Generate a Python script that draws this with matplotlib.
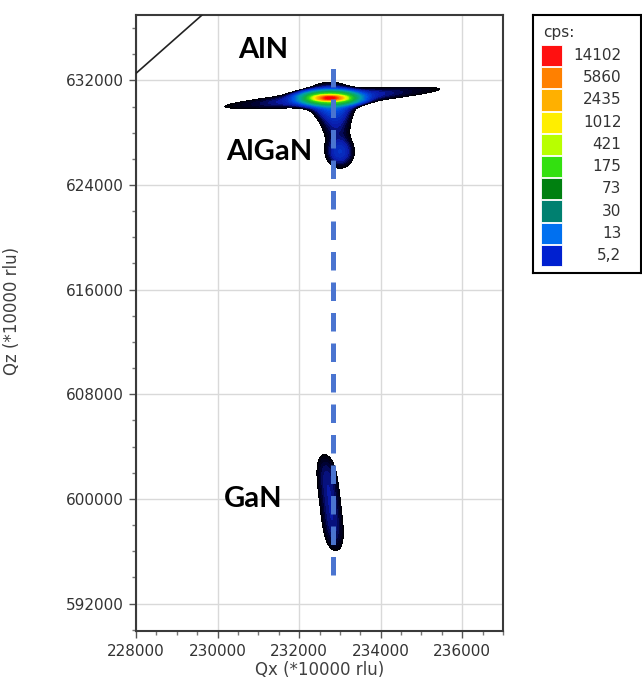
import numpy as np
import matplotlib
matplotlib.use('Agg')
import matplotlib.pyplot as plt
from matplotlib.colors import LinearSegmentedColormap, LogNorm
from matplotlib.patches import Rectangle

# colour scale (cps)
cps_levels = [14102, 5860, 2435, 1012, 421, 175, 73, 30, 13, 5.2]
cps_labels = ['14102', '5860', '2435', '1012', '421', '175', '73', '30', '13', '5,2']
cps_colors = ['#FF1010', '#FF8000', '#FFB000', '#FFEE00', '#B8FF00',
              '#33E010', '#008010', '#008070', '#0070F0', '#0020D0']
cps_floor = 2.0

# AlN substrate peak: narrow core, broad base, dome
aln_qx, aln_qz = 232755, 630655
aln_amp = [16000, 300, 9]
aln_wx = [150, 330, 330]
aln_wz = [90, 250, 700]

# analyser streak through the AlN peak
streak_slope = 0.252
streak_amp = 12
streak_decay = [1440, 1500]   # left, right
streak_wz = 340

# diffuse tail from AlN down to the AlGaN layer
tail_qx = 232820
tail_amp = 15
tail_decay = 1965
tail_wx = 260
tail_tilt = 0.037

# AlGaN layer peak
algan_qx, algan_qz = 233000, 626500
algan_amp = 6
algan_wx, algan_wz = 210, 650

# GaN layer peak
gan_qx, gan_qz = 232760, 599714
gan_amp = 5
gan_wx, gan_wz = 190, 3154
gan_tilt = -0.0375

# relaxation line (fully strained, constant Qx) and accessibility limit
ref_qx = 232840
ref_qz = [594150, 633800]
limit_qx = [228000, 229620]
limit_qz = [632540, 637000]

peak_labels = ['AlN', 'AlGaN', 'GaN']
label_qx = [231110, 231272, 230868]
label_qz = [634347, 626549, 600023]


def rsm_intensity(QX, QZ):
    I = np.zeros(QX.shape, dtype=float)
    for a, wx, wz in zip(aln_amp, aln_wx, aln_wz):
        I += a * np.exp(-0.5 * ((QX - aln_qx) / wx) ** 2 - 0.5 * ((QZ - aln_qz) / wz) ** 2)
    u = QX - aln_qx
    v = QZ - (aln_qz + streak_slope * u)
    L = np.where(u < 0, streak_decay[0], streak_decay[1])
    I += streak_amp * np.exp(-np.abs(u) / L) * np.exp(-0.5 * (v / streak_wz) ** 2)
    below = aln_qz - QZ
    xt = tail_qx + tail_tilt * below
    step = 1.0 / (1.0 + np.exp(-below / 100.0))
    I += step * tail_amp * np.exp(-np.clip(below, 0, None) / tail_decay) * \
        np.exp(-0.5 * ((QX - xt) / tail_wx) ** 2)
    I += algan_amp * np.exp(-0.5 * ((QX - algan_qx) / algan_wx) ** 2
                            - 0.5 * ((QZ - algan_qz) / algan_wz) ** 2)
    xg = gan_qx + gan_tilt * (QZ - gan_qz)
    I += gan_amp * np.exp(-0.5 * ((QX - xg) / gan_wx) ** 2
                          - 0.5 * ((QZ - gan_qz) / gan_wz) ** 4)
    return I


# log colour map: black below the lowest level, then the cps colours
nodes = [(2.0, '#000000'), (3.3, '#00002E'), (5.2, '#0A1AA8'), (13, '#0050E8'),
         (30, '#00A0B0'), (73, '#10B040'), (175, '#33DD11'), (421, '#BBFF00'),
         (1012, '#FFEE00'), (2435, '#FFB000'), (5860, '#FF7F00'), (14102, '#FF0000')]
span = np.log(14102 / cps_floor)
cmap = LinearSegmentedColormap.from_list(
    'cps', [(np.log(v / cps_floor) / span, c) for v, c in nodes])
cmap.set_over('#FF0000')

qx = np.arange(229000, 236500, 10, dtype=float)
qz = np.arange(594000, 634000, 25, dtype=float)
QX, QZ = np.meshgrid(qx, qz)
I = rsm_intensity(QX, QZ)

fig = plt.figure(figsize=(6.42, 6.79), dpi=100)
ax = fig.add_axes([136 / 642, 1 - 631 / 679, 367 / 642, 616 / 679])

levels = np.logspace(np.log10(cps_floor), np.log10(14102), 60)
ax.contourf(QX, QZ, I, levels=levels, cmap=cmap,
            norm=LogNorm(vmin=cps_floor, vmax=14102), extend='max', zorder=2)

ax.plot([ref_qx, ref_qx], ref_qz, color='#4A74D0', lw=3.6,
        dashes=(3.7, 2.4), zorder=4)
ax.plot(limit_qx, limit_qz, color='#222222', lw=1.2, zorder=3)

for name, x, y in zip(peak_labels, label_qx, label_qz):
    ax.text(x, y, name, ha='center', va='center', fontsize=21,
            fontweight='bold', family='Lato', color='black', zorder=5)

ax.set_xlim(228000, 237000)
ax.set_ylim(589900, 637000)
xt_major = np.arange(228000, 236001, 2000)
yt_major = np.arange(592000, 632001, 8000)
ax.set_xticks(xt_major)
ax.set_xticklabels([str(v) for v in xt_major])
ax.set_yticks(yt_major)
ax.set_yticklabels([str(v) for v in yt_major])
ax.set_xticks(np.arange(228000, 237001, 500), minor=True)
ax.set_yticks(np.arange(590000, 637001, 2000), minor=True)
ax.tick_params(which='major', direction='out', length=5, width=1,
               color='#555555', labelsize=11, labelcolor='#333333', pad=4)
ax.tick_params(which='minor', direction='out', length=3, width=1, color='#777777')
ax.grid(True, which='major', color='#D9D9D9', lw=1)
ax.set_axisbelow(True)
for sp in ax.spines.values():
    sp.set_color('#3A3A3A')
    sp.set_linewidth(1.5)

ax.set_xlabel('Qx (*10000 rlu)', fontsize=12, color='#404040', labelpad=2)
ax.set_ylabel('Qz (*10000 rlu)', fontsize=12, color='#404040')
ax.yaxis.set_label_coords(-0.313, 0.52)

# colour legend box
lax = fig.add_axes([533 / 642, 1 - 273 / 679, 108 / 642, 258 / 679])
lax.set_xlim(0, 108)
lax.set_ylim(258, 0)
lax.set_xticks([])
lax.set_yticks([])
for sp in lax.spines.values():
    sp.set_color('black')
    sp.set_linewidth(1.5)
lax.text(10, 18, 'cps:', ha='left', va='center', fontsize=11, color='#333333')
for i, (lab, col) in enumerate(zip(cps_labels, cps_colors)):
    y0 = 30 + i * 22.2
    lax.add_patch(Rectangle((8, y0), 21, 21.2, facecolor=col,
                            edgecolor='white', lw=0.6))
    lax.text(88.5, y0 + 10.6, lab, ha='right', va='center',
             fontsize=11, color='#333333')

fig.savefig('out.png', dpi=100)
